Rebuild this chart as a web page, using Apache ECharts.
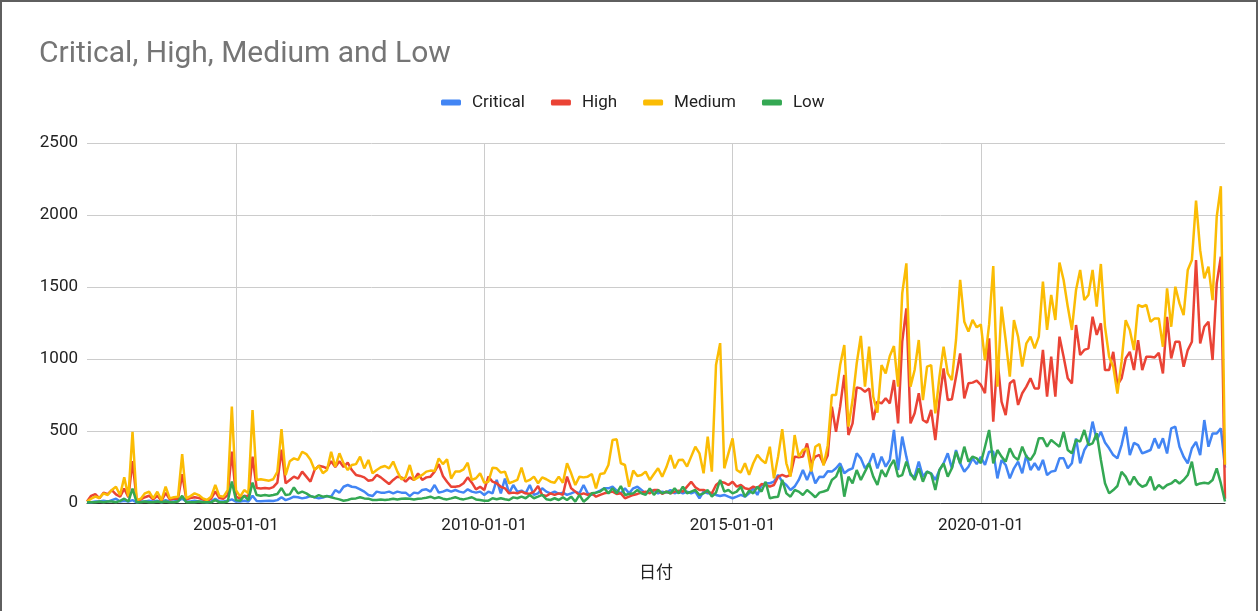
<!DOCTYPE html>
<html>
<head>
<meta charset="utf-8">
<script src="https://cdn.jsdelivr.net/npm/echarts@6/dist/echarts.min.js"></script>
<style>
  html, body { margin: 0; padding: 0; background: #fff; }
  #wrap { position: relative; width: 1258px; height: 611px; }
  #chart { position: absolute; left: 0; top: 0; width: 1258px; height: 611px; }
  #frame { position: absolute; left: 0; top: 0; width: 1258px; height: 611px; box-sizing: border-box;
           border: 2px solid #5f5f5f; border-bottom: none; pointer-events: none; }
</style>
</head>
<body>
<div id="wrap"><div id="chart"></div><div id="frame"></div></div>
<script>
// Month categories: 2002-01 .. 2024-12
const startYear = 2002, endYear = 2024;
const months = [];
for (let y = startYear; y <= endYear; y++) {
  for (let m = 1; m <= 12; m++) months.push(y + '-' + String(m).padStart(2, '0') + '-01');
}
const xTickLabels = ['2005-01-01', '2010-01-01', '2015-01-01', '2020-01-01'];
const yTicks = [0, 500, 1000, 1500, 2000, 2500];
const seriesNames = ['Critical', 'High', 'Medium', 'Low'];

const critical = [
  5,5,10,10,15,10,20,30,10,15,10,20,
  5,10,10,15,10,15,5,20,10,10,15,30,
  10,10,15,10,10,5,10,30,10,10,15,25,
  10,10,15,10,50,14,12,14,16,14,20,40,
  20,30,44,40,32,38,48,40,32,38,48,44,
  90,72,113,125,113,109,95,79,55,48,79,72,
  72,79,67,79,72,72,48,72,67,90,95,79,
  125,72,79,90,79,90,79,72,95,79,72,79,
  56,79,67,160,67,170,67,125,79,86,67,125,
  56,67,102,79,67,79,63,72,56,67,79,67,
  125,67,56,72,86,102,102,113,86,67,102,67,
  102,113,90,67,90,86,67,79,72,90,67,79,
  67,79,67,79,33,79,67,67,56,49,56,44,
  33,44,56,44,67,102,56,125,137,137,148,195,
  148,125,90,114,160,229,160,229,137,183,180,220,
  218,241,275,206,229,241,345,310,241,275,345,241,
  322,252,299,507,229,461,322,194,183,287,183,218,
  206,160,229,275,345,241,368,275,218,252,310,270,
  320,264,356,357,171,299,264,171,241,287,206,333,
  229,276,229,299,194,218,224,310,310,241,276,449,
  276,368,414,565,438,495,420,380,333,310,402,530,
  333,418,402,344,356,368,449,380,449,344,518,530,
  391,321,275,380,425,333,576,391,483,483,518,245
];
const high = [
  10,50,62,32,72,62,90,60,44,100,40,290,
  20,25,40,50,25,50,15,70,25,30,30,200,
  25,35,40,35,25,15,30,80,35,30,55,356,
  45,30,50,45,322,104,100,104,100,110,142,370,
  137,160,183,170,218,183,148,230,258,252,240,290,
  250,290,250,280,229,195,188,178,155,160,195,178,
  155,132,160,183,178,148,178,160,206,160,178,183,
  218,270,188,148,113,113,118,137,178,141,95,113,
  90,183,148,137,113,102,67,72,67,79,67,63,
  79,118,56,49,67,56,67,56,183,102,79,56,
  67,56,67,44,56,67,72,79,63,67,33,44,
  56,63,72,79,67,90,90,63,79,67,79,86,
  79,114,148,110,90,90,79,67,125,148,141,125,
  148,114,125,102,95,114,102,132,125,114,125,183,
  195,183,195,322,317,322,414,276,322,334,270,330,
  669,495,669,889,472,553,803,796,773,796,576,704,
  692,727,692,854,553,1120,1352,553,623,762,576,558,
  646,437,715,935,715,720,877,1039,727,831,836,850,
  820,762,1144,565,1005,704,611,831,854,681,762,808,
  866,796,796,1063,738,1016,738,1155,1016,866,831,1236,
  1028,1063,1074,1294,1167,1248,923,923,1050,819,865,1004,
  1050,923,1131,923,1016,1016,1011,1043,900,1293,1004,1120,
  1120,946,1062,1120,1687,1108,1224,1259,993,1525,1710,30
];
const medium = [
  10,30,45,35,67,55,90,113,55,178,45,495,
  20,30,67,78,32,78,20,113,32,40,44,340,
  32,48,67,55,32,21,44,125,48,44,90,669,
  90,44,90,67,646,160,165,160,155,165,217,513,
  194,290,310,299,356,340,300,230,258,207,229,356,
  252,345,275,229,264,270,322,240,299,206,229,248,
  257,240,288,218,164,178,264,160,178,195,218,225,
  222,310,270,303,170,218,218,234,280,160,172,206,
  141,148,245,241,211,218,137,148,160,245,148,160,
  183,137,178,165,148,141,183,141,276,206,125,183,
  178,183,201,102,201,206,264,437,442,276,264,113,
  225,188,195,218,160,201,241,183,248,333,241,299,
  300,253,322,391,345,206,461,218,958,1110,241,345,
  449,229,211,276,195,276,334,299,276,391,171,322,
  512,276,183,472,322,368,380,218,391,410,260,400,
  750,750,958,1097,530,715,970,1160,808,1086,738,627,
  958,900,1021,1090,808,1456,1664,808,924,1132,715,947,
  958,623,877,1086,900,854,1132,1549,1259,1190,1271,1220,
  1240,990,1240,1646,808,1364,1132,877,1271,1155,947,1109,
  1155,1074,1155,1537,1202,1445,1271,1670,1549,1364,1202,1479,
  1618,1410,1445,1618,1364,1660,1224,1016,946,760,981,1270,
  1201,1062,1375,1363,1375,1259,1282,1282,1085,1490,1224,1502,
  1386,1305,1618,1687,2100,1756,1560,1641,1409,1988,2200,265
];
const low = [
  5,5,5,10,5,10,10,5,15,30,10,100,
  5,5,10,5,5,10,5,10,5,5,10,50,
  5,5,5,10,5,5,5,20,5,5,10,150,
  20,15,50,20,142,55,50,55,50,55,62,104,
  55,60,108,67,79,67,48,40,55,44,48,40,
  32,25,16,21,30,32,40,32,30,21,21,25,
  21,25,30,25,30,32,30,25,30,32,37,44,
  32,40,30,25,32,40,30,25,32,40,25,21,
  16,16,33,26,33,26,21,39,33,44,33,56,
  33,44,56,26,21,33,21,39,21,44,9,56,
  9,33,67,72,79,102,67,102,67,118,56,63,
  67,90,67,56,102,56,90,67,79,67,102,67,
  114,67,79,90,56,67,90,44,72,160,79,90,
  67,79,114,44,86,67,114,79,148,33,40,44,
  160,67,44,90,79,56,90,67,40,72,80,90,
  160,183,252,44,183,137,229,160,218,275,183,125,
  229,183,252,299,183,194,287,206,160,241,148,218,
  202,90,229,275,183,241,356,275,391,287,322,310,
  276,391,507,276,368,322,287,380,322,299,391,322,
  299,345,449,449,391,438,414,391,495,368,345,438,
  426,507,403,414,484,300,137,67,90,118,217,183,
  125,183,136,113,125,183,90,125,101,125,136,160,
  136,160,194,287,125,136,140,136,160,240,136,10
];
const colors = ['#4285F4', '#EA4335', '#FBBC04', '#34A853'];
const values = [critical, high, medium, low];

const isTick = (idx) => xTickLabels.indexOf(months[idx]) !== -1;

const chart = echarts.init(document.getElementById('chart'), null, { renderer: 'canvas' });
chart.setOption({
  animation: false,
  color: colors,
  textStyle: { fontFamily: 'Roboto, Arial, sans-serif' },
  title: {
    text: 'Critical, High, Medium and Low',
    left: 34, top: 34,
    textStyle: { fontFamily: 'Roboto, Arial, sans-serif', fontSize: 30, fontWeight: 'normal', color: '#757575' }
  },
  legend: {
    data: seriesNames,
    left: 436, top: 89,
    icon: 'roundRect', itemWidth: 20, itemHeight: 6, itemGap: 26,
    textStyle: { fontSize: 17, color: '#222', padding: [0, 0, 0, 6] }
  },
  grid: { left: 87, right: 33, top: 143, bottom: 108, containLabel: false },
  xAxis: {
    type: 'category',
    data: months,
    boundaryGap: false,
    name: '日付',
    nameLocation: 'middle',
    nameGap: 60,
    nameTextStyle: { fontSize: 17, color: '#222', fontFamily: '"Noto Sans CJK JP", Roboto, sans-serif' },
    axisLine: { show: true, lineStyle: { color: '#333', width: 1 } },
    axisTick: { show: false },
    axisLabel: {
      interval: (idx) => isTick(idx),
      fontSize: 17, color: '#222', margin: 14
    },
    splitLine: { show: true, interval: (idx) => isTick(idx), lineStyle: { color: '#cccccc', width: 1 } }
  },
  yAxis: {
    type: 'value',
    min: yTicks[0], max: yTicks[yTicks.length - 1], interval: 500,
    axisLine: { show: false },
    axisTick: { show: false },
    axisLabel: { fontSize: 17, color: '#222', margin: 9, formatter: (v) => String(v) },
    splitLine: { lineStyle: { color: '#cccccc', width: 1 } }
  },
  series: seriesNames.map((n, k) => ({
    name: n,
    type: 'line',
    data: values[k],
    showSymbol: false,
    symbol: 'none',
    lineStyle: { width: 2.5, color: colors[k] },
    itemStyle: { color: colors[k] },
    emphasis: { disabled: true }
  }))
});
</script>
</body>
</html>
